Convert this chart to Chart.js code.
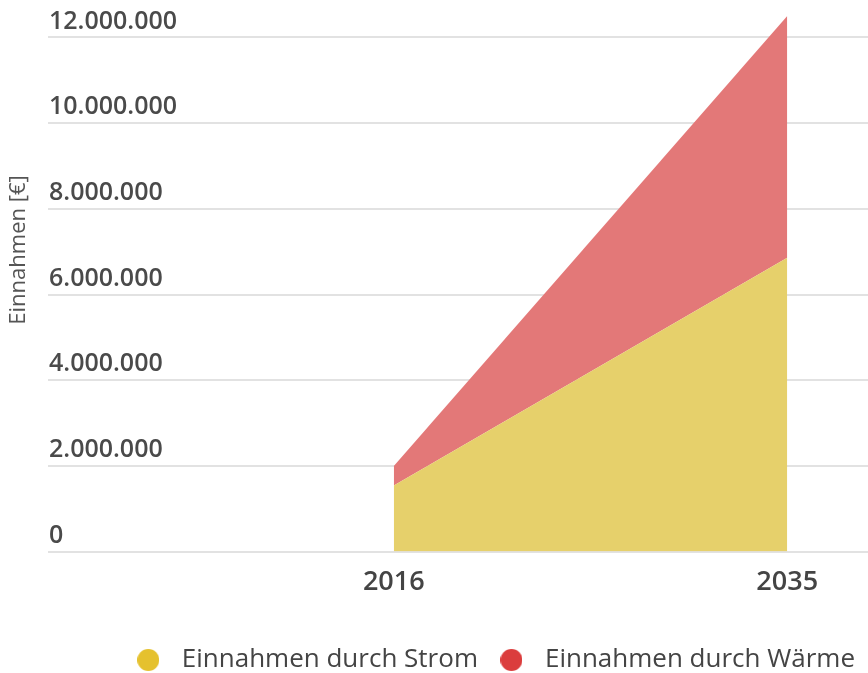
<!DOCTYPE html>
<html>
<head>
<meta charset="utf-8">
<script src="https://cdn.jsdelivr.net/npm/chart.js@4/dist/chart.umd.min.js"></script>
<style>
  html, body { margin: 0; padding: 0; background: #fff; }
  #wrap { width: 868px; height: 673px; }
</style>
</head>
<body>
<div id="wrap"><canvas id="chartEinnahmen"></canvas></div>
<script>
// Daten
const jahre = [2016, 2035];
const einnahmenStrom = [1540000, 6860000];
const einnahmenWaerme = [460000, 5640000];
const yTicks = [0, 2000000, 4000000, 6000000, 8000000, 10000000, 12000000];
const serienNamen = ["Einnahmen durch Strom", "Einnahmen durch Wärme"];
const legendenFarben = ["#e5c12e", "#db3d3d"];
const yTitel = "Einnahmen [€]";

const fontFamily = "'Open Sans', sans-serif";

// y-Achsentitel etwas oberhalb der Mitte zeichnen (wie im Original)
const yTitelPlugin = {
    id: "yTitel",
    afterDraw(chart) {
        const ctx = chart.ctx;
        ctx.save();
        ctx.translate(19, 250);
        ctx.rotate(-Math.PI / 2);
        ctx.font = "22px " + fontFamily;
        ctx.fillStyle = "#555";
        ctx.textAlign = "center";
        ctx.textBaseline = "middle";
        ctx.fillText(yTitel, 0, 0);
        ctx.restore();
    }
};

// Legende etwas flacher machen, damit sie tiefer sitzt
const legendeTiefer = {
    id: "legendeTiefer",
    beforeInit(chart) {
        const legende = chart.legend;
        if (!legende) return;
        const fitOrig = legende.fit.bind(legende);
        legende.fit = function () {
            fitOrig();
            this.height -= 10;
        };
    }
};

// Legendenpunkt als kleines Canvas
function legendenPunkt(farbe) {
    const c = document.createElement("canvas");
    c.width = 22;
    c.height = 22;
    const g = c.getContext("2d");
    g.fillStyle = farbe;
    g.beginPath();
    g.arc(11, 11, 11, 0, Math.PI * 2);
    g.fill();
    return c;
}

function punkte(werte) {
    return jahre.map((j, i) => ({ x: j, y: werte[i] }));
}

const ctx = document.getElementById("chartEinnahmen").getContext("2d");
new Chart(ctx, {
    type: "line",
    data: {
        datasets: [{
            label: serienNamen[0],
            data: punkte(einnahmenStrom),
            fill: "origin",
            backgroundColor: "#e6d06b",
            borderWidth: 0,
            pointRadius: 0,
            pointStyle: legendenPunkt(legendenFarben[0])
        }, {
            label: serienNamen[1],
            data: punkte(einnahmenWaerme),
            fill: "-1",
            backgroundColor: "#e37878",
            borderWidth: 0,
            pointRadius: 0,
            pointStyle: legendenPunkt(legendenFarben[1])
        }]
    },
    options: {
        responsive: true,
        maintainAspectRatio: false,
        animation: false,
        layout: { padding: { left: 46, top: 15, right: 0, bottom: 0 } },
        plugins: {
            tooltip: { enabled: false },
            legend: {
                position: "bottom",
                align: "end",
                labels: {
                    usePointStyle: true,
                    pointStyleWidth: 41,
                    boxHeight: 22,
                    padding: 13,
                    color: "#444",
                    font: { family: fontFamily, size: 26 }
                }
            }
        },
        scales: {
            x: {
                type: "linear",
                min: 1999.3,
                max: 2038.9,
                afterBuildTicks: axis => { axis.ticks = jahre.map(v => ({ value: v })); },
                afterFit: axis => { axis.height += 28; },
                grid: { display: false },
                border: { display: false },
                ticks: {
                    padding: 7,
                    color: "#444",
                    font: { family: fontFamily, size: 27, weight: "600" },
                    callback: v => String(v)
                }
            },
            y: {
                stacked: true,
                min: 0,
                max: 12500000,
                afterBuildTicks: axis => { axis.ticks = yTicks.map(v => ({ value: v })); },
                grid: { color: "#e2e2e2", lineWidth: 2, drawTicks: false },
                border: { display: false },
                ticks: {
                    mirror: true,
                    padding: 1,
                    labelOffset: -16,
                    color: "#4a4a4a",
                    font: { family: fontFamily, size: 25, weight: "600" },
                    callback: v => v.toLocaleString("de-DE")
                }
            }
        }
    },
    plugins: [yTitelPlugin, legendeTiefer]
});
</script>
</body>
</html>
